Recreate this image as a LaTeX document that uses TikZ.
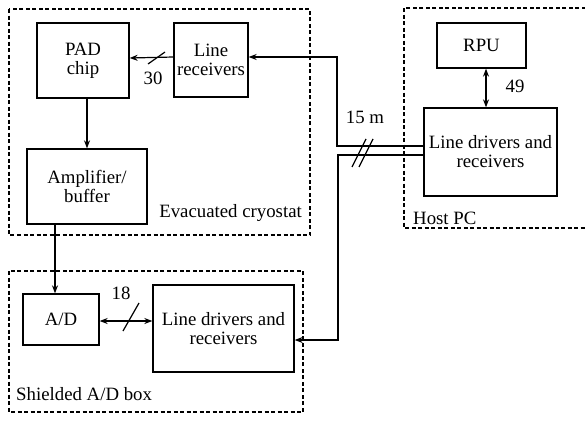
\documentclass[tikz,border=0pt]{standalone}
\usepackage{fontspec}
\setmainfont{Liberation Serif}
\usetikzlibrary{arrows.meta,calc}
\begin{document}
\begin{tikzpicture}[x=1pt,y=-1pt,
  every node/.style={font=\fontsize{18.8}{19}\selectfont},
  blk/.style={draw,line width=1.3pt,align=center,inner sep=0pt},
  grp/.style={draw,line width=1.1pt,dash pattern=on 4pt off 2.5pt},
  conn/.style={line width=1.2pt},
  arr/.style={conn,-{Stealth[length=8pt,width=6pt]}},
  darr/.style={conn,{Stealth[length=8pt,width=6pt]}-{Stealth[length=8pt,width=6pt]}},
  lbl/.style={inner sep=0pt}]
\useasboundingbox (0,0) rectangle (585,423);
% groups
\draw[grp] (9,9) rectangle (310,235);
\draw[grp] (404,8) rectangle (590,228);
\draw[grp] (9,271) rectangle (303,412);
% blocks
\node[blk,minimum width=92pt,minimum height=75pt] (PAD) at (83,60.5) {PAD\\chip};
\node[blk,minimum width=74pt,minimum height=74pt] (LR) at (211,60) {Line\\receivers};
\node[blk,minimum width=120pt,minimum height=75pt] (AMP) at (87,186.5) {Amplifier/\\buffer};
\node[blk,minimum width=89pt,minimum height=45pt] (RPU) at (481.5,45.5) {RPU};
\node[blk,minimum width=133pt,minimum height=88pt] (HLDR) at (490.5,152) {Line drivers and\\receivers};
\node[blk,minimum width=76pt,minimum height=51pt] (AD) at (61,319.5) {A/D};
\node[blk,minimum width=141pt,minimum height=87pt] (ALDR) at (223.5,328.5) {Line drivers and\\receivers};
% labels
\node[lbl,anchor=east] (tcryo) at (302,213) {Evacuated cryostat};
\node[lbl,anchor=west] (thost) at (413,218) {Host PC};
\node[lbl,anchor=west] (tshield) at (16,394) {Shielded A/D box};
\node[lbl] (t15) at (365,117) {15 m};
\node[lbl] (t49) at (515,86) {49};
\node[lbl] (t18) at (121,293) {18};
\node[lbl] (t30) at (153,78) {30};
% helper coordinates
\coordinate (c1) at (337,146);
\coordinate (c2) at (338,155);
\coordinate (xa) at (55,0);
\coordinate (xb) at (87,0);
\coordinate (xc) at (486,0);
\coordinate (yd) at (0,321);
% connectors
\draw[arr] ([yshift=3pt]LR.west) -- ([yshift=2.5pt]PAD.east);
\draw[conn] (148,64) -- (165,52);
\draw[arr] (PAD.south -| xb) -- (AMP.north -| xb);
\draw[arr] (AMP.south -| xa) -- (AD.north -| xa);
\draw[darr] (AD.east |- yd) -- (ALDR.west |- yd);
\draw[conn] (123,331) -- (139,303);
\draw[darr] (RPU.south -| xc) -- (HLDR.north -| xc);
\draw[arr] (HLDR.west |- c1) -- (c1) |- ([yshift=3pt]LR.east);
\draw[arr] (HLDR.west |- c2) -- (c2) |- ([yshift=-11.5pt]ALDR.east);
\draw[conn] (352,167) -- (366,139);
\draw[conn] (359,167) -- (373,139);
\end{tikzpicture}
\end{document}
